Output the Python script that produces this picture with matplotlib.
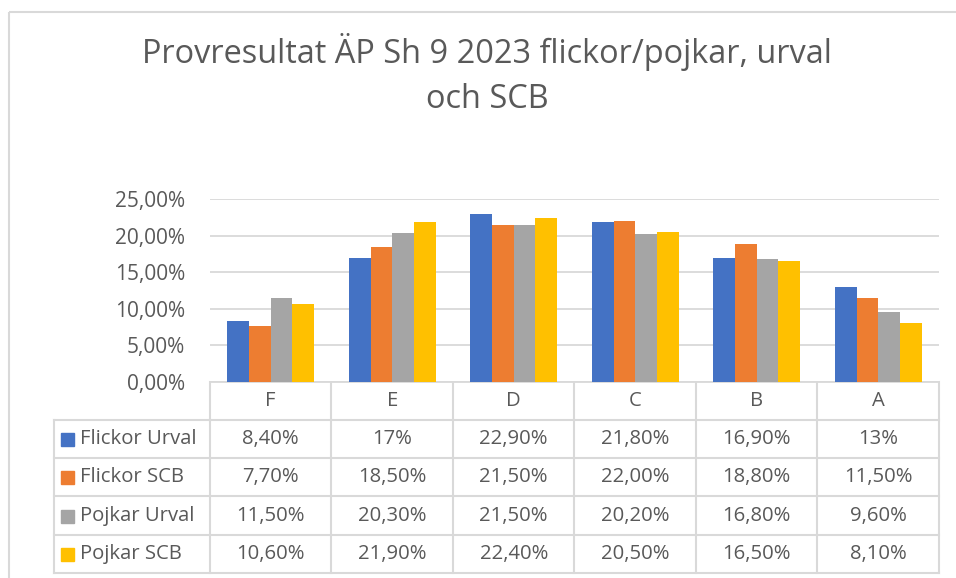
import matplotlib.pyplot as plt
from matplotlib.patches import Rectangle
import numpy as np

plt.rcParams['font.family'] = ['Open Sans', 'DejaVu Sans']

grades = ["F", "E", "D", "C", "B", "A"]
series = ["Flickor Urval", "Flickor SCB", "Pojkar Urval", "Pojkar SCB"]
flickor_urval = [8.4, 17.0, 22.9, 21.8, 16.9, 13.0]
flickor_scb = [7.7, 18.5, 21.5, 22.0, 18.8, 11.5]
pojkar_urval = [11.5, 20.3, 21.5, 20.2, 16.8, 9.6]
pojkar_scb = [10.6, 21.9, 22.4, 20.5, 16.5, 8.1]
# labels as they appear in the data table
table_labels = [
    ["8,40%", "17%", "22,90%", "21,80%", "16,90%", "13%"],
    ["7,70%", "18,50%", "21,50%", "22,00%", "18,80%", "11,50%"],
    ["11,50%", "20,30%", "21,50%", "20,20%", "16,80%", "9,60%"],
    ["10,60%", "21,90%", "22,40%", "20,50%", "16,50%", "8,10%"],
]
yticks = [0, 5, 10, 15, 20, 25]
ytick_labels = ["0,00%", "5,00%", "10,00%", "15,00%", "20,00%", "25,00%"]

colors = ["#4472C4", "#ED7D31", "#A5A5A5", "#FFC000"]
text_col = "#595959"
line_col = "#D9D9D9"

W, H = 956, 578
fig = plt.figure(figsize=(W / 100, H / 100), dpi=100)

# overlay in pixel coordinates for frame, title and table
ov = fig.add_axes([0, 0, 1, 1])
ov.set_xlim(0, W)
ov.set_ylim(H, 0)
ov.axis("off")

ov.add_patch(Rectangle((9, 12), 1000, 1000, fill=False, ec=line_col, lw=1.5))
ov.text(487, 52, "Provresultat ÄP Sh 9 2023 flickor/pojkar, urval", ha="center", va="center",
        fontsize=23.4, color=text_col)
ov.text(487, 100, "och SCB", ha="center", va="center", fontsize=23.4, color=text_col)

# bar chart
px0, px1, py0, py1 = 210, 939, 199, 382
ax = fig.add_axes([px0 / W, 1 - py1 / H, (px1 - px0) / W, (py1 - py0) / H])
x = np.arange(len(grades))
bw = 0.178
data = [flickor_urval, flickor_scb, pojkar_urval, pojkar_scb]
for i, vals in enumerate(data):
    ax.bar(x + (i - 1.5) * bw, vals, bw, color=colors[i], zorder=3)
ax.set_xlim(-0.5, len(grades) - 0.5)
ax.set_ylim(0, 25)
ax.set_yticks(yticks)
ax.set_yticklabels(ytick_labels, fontsize=15, color=text_col)
ax.set_xticks([])
ax.tick_params(axis="y", length=0, pad=18)
ax.grid(axis="y", color=line_col, lw=1.3, zorder=0)
for s in ["top", "right", "left"]:
    ax.spines[s].set_visible(False)
ax.spines["bottom"].set_color(line_col)
ax.spines["bottom"].set_linewidth(1.3)

# data table
col_w = (px1 - px0) / len(grades)
row_edges = [382, 420, 458, 496, 535, 573]
tab_left = 54
fs = 14.6
lkw = dict(color=line_col, lw=1.5)
# vertical lines
for j in range(len(grades) + 1):
    xx = px0 + j * col_w
    ov.plot([xx, xx], [row_edges[0], row_edges[-1]], **lkw)
ov.plot([tab_left, tab_left], [row_edges[1], row_edges[-1]], **lkw)
# horizontal lines
ov.plot([px0, px1], [row_edges[1], row_edges[1]], **lkw)
ov.plot([tab_left, px0], [row_edges[1], row_edges[1]], **lkw)
for r in row_edges[2:]:
    ov.plot([tab_left, px1], [r, r], **lkw)

for j, g in enumerate(grades):
    ov.text(px0 + (j + 0.5) * col_w, (row_edges[0] + row_edges[1]) / 2, g,
            ha="center", va="center", fontsize=fs, color=text_col)
for i, name in enumerate(series):
    yc = (row_edges[i + 1] + row_edges[i + 2]) / 2
    ov.add_patch(Rectangle((61, yc - 6), 13, 13, color=colors[i]))
    ov.text(80, yc, name, ha="left", va="center", fontsize=fs, color=text_col)
    for j in range(len(grades)):
        ov.text(px0 + (j + 0.5) * col_w, yc, table_labels[i][j],
                ha="center", va="center", fontsize=fs, color=text_col)

fig.savefig("out.png", dpi=100)
